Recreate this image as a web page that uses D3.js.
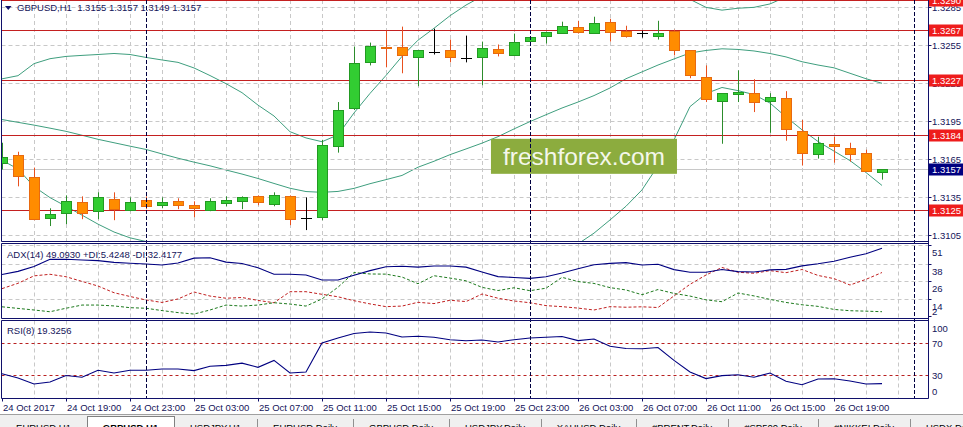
<!DOCTYPE html>
<html><head><meta charset="utf-8">
<script src="https://cdn.jsdelivr.net/npm/d3@7"></script>
<style>
html,body{margin:0;padding:0;background:#fff;overflow:hidden}
svg{display:block}
text{font-family:"Liberation Sans",Arial,sans-serif}
</style></head><body>
<svg id="c" width="963" height="427"></svg>
<script>
// ---------------- DATA ----------------
const symbolHeader = "GBPUSD,H1  1.3155 1.3157 1.3149 1.3157";
const adxHeader = "ADX(14) 49.0930 +DI:5.4248 -DI:32.4177";
const rsiHeader = "RSI(8) 19.3256";

const timeLabels = ["24 Oct 2017","24 Oct 19:00","24 Oct 23:00","25 Oct 03:00","25 Oct 07:00","25 Oct 11:00","25 Oct 15:00","25 Oct 19:00","25 Oct 23:00","26 Oct 03:00","26 Oct 07:00","26 Oct 11:00","26 Oct 15:00","26 Oct 19:00"];
const timeLabelBars = [0,4,8,12,16,20,24,28,32,36,40,44,48,52];
const daySeparatorBars = [9,33,57];

const open  = [1.31624,1.31687,1.31507,1.31186,1.31225,1.31311,1.31241,1.31335,1.31249,1.31327,1.31288,1.31319,1.31288,1.31249,1.31304,1.31319,1.31358,1.31296,1.31358,1.31186,1.31194,1.31757,1.32055,1.32415,1.32540,1.32540,1.32454,1.32493,1.32509,1.32446,1.32454,1.32517,1.32477,1.32587,1.32626,1.32650,1.32697,1.32650,1.32736,1.32665,1.32642,1.32626,1.32665,1.32509,1.32297,1.32110,1.32164,1.32172,1.32110,1.32133,1.31875,1.31695,1.31773,1.31742,1.31703,1.3155];
const high  = [1.31781,1.31710,1.31585,1.31264,1.31366,1.31358,1.31390,1.31390,1.31350,1.31358,1.31350,1.31343,1.31319,1.31343,1.31358,1.31358,1.31366,1.31390,1.31366,1.31350,1.31804,1.32102,1.32540,1.32571,1.32665,1.32697,1.32509,1.32681,1.32595,1.32626,1.32579,1.32556,1.32642,1.32618,1.32657,1.32736,1.32743,1.32775,1.32759,1.32704,1.32665,1.32743,1.32673,1.32509,1.32391,1.32172,1.32352,1.32282,1.32172,1.32188,1.31961,1.31828,1.31828,1.31781,1.31726,1.3157];
const low   = [1.31570,1.31437,1.31170,1.31124,1.31139,1.31178,1.31178,1.31170,1.31241,1.31257,1.31264,1.31257,1.31194,1.31241,1.31280,1.31257,1.31288,1.31280,1.31131,1.31092,1.31170,1.31703,1.32039,1.32391,1.32376,1.32329,1.32227,1.32477,1.32415,1.32415,1.32235,1.32462,1.32470,1.32587,1.32564,1.32650,1.32642,1.32642,1.32579,1.32610,1.32610,1.32595,1.32470,1.32290,1.32102,1.31773,1.32102,1.32023,1.31859,1.31797,1.31601,1.31656,1.31624,1.31632,1.31554,1.3149];
const close = [1.31671,1.31515,1.31178,1.31217,1.31319,1.31225,1.31350,1.31257,1.31311,1.31280,1.31311,1.31288,1.31264,1.31319,1.31327,1.31350,1.31311,1.31366,1.31178,1.31186,1.31765,1.32039,1.32407,1.32548,1.32532,1.32470,1.32509,1.32493,1.32454,1.32446,1.32532,1.32485,1.32579,1.32618,1.32657,1.32704,1.32657,1.32728,1.32657,1.32626,1.32642,1.32650,1.32509,1.32313,1.32125,1.32172,1.32180,1.32102,1.32141,1.31890,1.31703,1.31781,1.31757,1.31695,1.31562,1.3157];

const bbUpper  = [1.32285,1.32310,1.32405,1.32444,1.32462,1.32470,1.32477,1.32485,1.32477,1.32454,1.32434,1.32415,1.32371,1.32311,1.32247,1.32176,1.32078,1.31992,1.31868,1.31819,1.31789,1.31843,1.32016,1.32170,1.32312,1.32462,1.32590,1.32684,1.32783,1.32867,1.32936,1.33003,1.33072,1.33122,1.33160,1.33198,1.33221,1.33238,1.33254,1.33292,1.33271,1.33188,1.33080,1.32912,1.32849,1.32827,1.32842,1.32849,1.32876,1.32931,1.32957,1.32997,1.33029,1.33018,1.33026,1.33056];
const bbMiddle = [1.31964,1.31942,1.31920,1.31896,1.31871,1.31840,1.31808,1.31781,1.31754,1.31728,1.31693,1.31659,1.31628,1.31599,1.31566,1.31534,1.31499,1.31460,1.31422,1.31396,1.31390,1.31397,1.31421,1.31458,1.31490,1.31523,1.31588,1.31635,1.31687,1.31732,1.31778,1.31829,1.31890,1.31948,1.32002,1.32055,1.32102,1.32153,1.32213,1.32286,1.32340,1.32394,1.32442,1.32489,1.32509,1.32522,1.32517,1.32505,1.32485,1.32458,1.32420,1.32394,1.32372,1.32329,1.32286,1.32250];
const bbLower  = [1.31643,1.31574,1.31435,1.31348,1.31280,1.31210,1.31139,1.31077,1.31031,1.31002,1.30952,1.30903,1.30885,1.30887,1.30885,1.30892,1.30920,1.30928,1.30976,1.30973,1.30991,1.30951,1.30826,1.30746,1.30668,1.30584,1.30586,1.30586,1.30591,1.30597,1.30620,1.30655,1.30708,1.30774,1.30844,1.30912,1.30983,1.31068,1.31172,1.31280,1.31409,1.31600,1.31804,1.32066,1.32169,1.32217,1.32192,1.32161,1.32094,1.31985,1.31883,1.31791,1.31715,1.31640,1.31546,1.31444];

const adx     = [31.0,33.2,36.6,41.5,41.5,41.0,40.6,39.4,38.8,38.3,37.6,39.0,42.3,42.6,39.6,38.6,35.7,31.2,31.2,30.7,27.3,27.3,30.5,33.7,36.4,36.7,36.1,36.9,36.9,36.1,32.8,29.6,29.0,28.4,29.5,32.1,35.0,37.8,38.7,39.2,37.6,38.1,34.4,32.6,32.6,34.5,33.0,32.8,34.2,34.6,37.0,38.4,40.2,42.9,45.4,49.093];
const plusDI  = [8.8,7.7,6.6,5.4,7.8,10.0,10.0,9.4,8.2,7.8,6.2,4.8,3.8,6.6,10.0,9.3,10.0,11.6,10.7,9.3,14.2,22.3,32.4,31.4,31.3,29.3,24.7,30.2,28.6,26.7,22.2,20.0,21.9,19.9,21.6,29.1,26.2,24.9,22.0,20.4,17.1,20.7,18.0,16.2,13.6,12.3,18.3,16.3,13.9,11.8,10.2,9.1,7.0,6.1,5.8,5.4248];
const minusDI = [21.3,25.0,30.1,31.2,29.5,26.3,23.1,18.5,15.9,13.5,11.8,14.2,19.0,16.2,14.7,15.2,13.2,11.6,19.2,19.2,17.4,15.7,13.0,10.8,8.9,9.3,11.9,11.0,13.3,12.4,17.6,14.7,12.8,11.6,9.6,8.9,7.9,6.6,8.9,8.5,8.8,8.3,16.3,24.3,30.7,35.9,32.6,31.9,33.7,32.3,34.5,30.4,28.2,23.8,27.7,32.4177];
const rsi     = [31.9,26.6,18.9,21.4,29.7,27.6,36.4,32.9,36.4,36.4,38.1,38.1,36.0,41.5,42.7,45.6,40.2,49.0,32.9,34.2,71.3,77.7,83.3,85.3,84.1,78.9,79.8,78.7,75.5,74.2,75.1,72.6,75.5,77.7,78.6,79.5,74.3,76.3,67.1,64.2,64.0,65.5,49.0,34.2,25.8,29.6,30.8,27.6,32.9,22.5,18.0,25.3,25.7,22.7,18.9,19.3256];

const priceTicks = [1.3285,1.3255,1.3225,1.3195,1.3165,1.3135,1.3105];
const levelPrices = [1.3290,1.3267,1.3227,1.3184,1.3125];
const bidPrice = 1.3157;
const adxTicks = [51,38,26,14,2];
const adxGrid = [51,38,26,14];
const rsiTicks = [100,70,30,0];
const rsiLevels = [70,30];
const watermark = "freshforex.com";
const tabNames = ["EURUSD,H1","GBPUSD,H1","USDJPY,H1","EURUSD,Daily","GBPUSD,Daily","USDJPY,Daily","XAUUSD,Daily","#BRENT,Daily","#SP500,Daily","#NIKKEI,Daily","USDX,Daily"];
const activeTab = 1;

// ---------------- LAYOUT ----------------
const svg = d3.select('#c');
const AX = 928.5, LEFT = 1.5;
const mainP = {top:0, bottom:241.5}, adxP = {top:243.5, bottom:318.5}, rsiP = {top:320.5, bottom:398.5};
const navy = "#10106a", txt = "#14145a";
const x  = d3.scaleLinear().domain([0, 55]).range([2, 882]);
const y  = d3.scaleLinear().domain([1.31002, 1.32907]).range([241.5, 0]);
const yA = d3.scaleLinear().domain([0.74, 52.4]).range([318.5, 243.5]);
const yR = d3.scaleLinear().domain([0, 100]).range([398.8, 320.5]);
const hp = v => Math.floor(v) + 0.5;
const n = close.length;
const idx = d3.range(n);

const defs = svg.append('defs');
function mkClip(id, p){
  defs.append('clipPath').attr('id', id).append('rect')
    .attr('x', LEFT).attr('y', p.top).attr('width', AX - LEFT).attr('height', p.bottom - p.top);
}
mkClip('cm', mainP); mkClip('ca', adxP); mkClip('cr', rsiP);

svg.append('rect').attr('width',963).attr('height',427).attr('fill','#fff');

// vertical grid in all panels
const gridBars = d3.range(2, 57, 2);
[[mainP,'cm'],[adxP,'ca'],[rsiP,'cr']].forEach(([p,c]) => {
  svg.append('g').attr('clip-path',`url(#${c})`).selectAll('line').data(gridBars).join('line')
    .attr('x1', d => x(d)+0.5).attr('x2', d => x(d)+0.5).attr('y1', p.top).attr('y2', p.bottom)
    .attr('stroke','#c8c8c8').attr('stroke-dasharray','4,3');
});

// ---------- main panel ----------
const gm = svg.append('g').attr('clip-path','url(#cm)');
gm.selectAll('line.hg').data(priceTicks).join('line').attr('class','hg')
  .attr('x1', LEFT).attr('x2', AX).attr('y1', d => hp(y(d))).attr('y2', d => hp(y(d)))
  .attr('stroke','#c8c8c8').attr('stroke-dasharray','4,3');

const bbLine = d3.line().x((d,i) => x(i)).y(d => y(d));
[bbUpper, bbMiddle, bbLower].forEach(s => {
  gm.append('path').attr('d', bbLine(s)).attr('fill','none').attr('stroke','#3f9e7e').attr('stroke-width',1);
});

gm.selectAll('line.lv').data(levelPrices).join('line').attr('class','lv')
  .attr('x1', LEFT).attr('x2', AX).attr('y1', d => hp(y(d))).attr('y2', d => hp(y(d)))
  .attr('stroke','#c42020').attr('stroke-width',1);

gm.append('line').attr('x1', LEFT).attr('x2', AX).attr('y1', hp(y(bidPrice))).attr('y2', hp(y(bidPrice)))
  .attr('stroke','#c8c8c8');

// candles
const cg = gm.append('g');
idx.forEach(i => {
  const o = open[i], c = close[i], cx = x(i);
  const doji = o === c, bull = c > o;
  const wick = doji ? '#000' : (bull ? '#2c8c2c' : '#e8501e');
  cg.append('line').attr('x1', cx+0.5).attr('x2', cx+0.5).attr('y1', y(high[i])).attr('y2', y(low[i]))
    .attr('stroke', wick);
  if (doji) {
    cg.append('line').attr('x1', cx-5).attr('x2', cx+6).attr('y1', hp(y(o))).attr('y2', hp(y(o))).attr('stroke','#000');
  } else {
    const yt = Math.round(y(Math.max(o,c))), yb = Math.round(y(Math.min(o,c)));
    cg.append('rect').attr('x', cx-4.5).attr('y', yt+0.5).attr('width', 10).attr('height', Math.max(1, yb-yt))
      .attr('fill', bull ? '#32cd32' : '#ff8c00').attr('stroke', bull ? '#229a22' : '#e86a10');
  }
});

// watermark
const wm = gm.append('g');
wm.append('rect').attr('x', x(30.56)).attr('y', y(1.31812)).attr('width', 186).attr('height', 35).attr('fill','#8cac3e');
wm.append('text').attr('x', x(30.56)+93).attr('y', y(1.31812)+26.5).attr('text-anchor','middle')
  .attr('font-family','"Open Sans", sans-serif').attr('font-size', 24.5).attr('fill','#f4f7ea').text(watermark);

// header
svg.append('path').attr('d','M5,6 L11.5,6 L8.25,10 Z').attr('fill', navy);
svg.append('text').attr('x',17).attr('y',11).attr('font-size',9.5).attr('fill',txt).attr('xml:space','preserve')
  .style('white-space','pre').text(symbolHeader);

// ---------- ADX panel ----------
const ga = svg.append('g').attr('clip-path','url(#ca)');
ga.selectAll('line').data(adxGrid).join('line')
  .attr('x1', LEFT).attr('x2', AX).attr('y1', d => hp(yA(d))).attr('y2', d => hp(yA(d)))
  .attr('stroke','#c8c8c8').attr('stroke-dasharray','4,3');
const aLine = d3.line().x((d,i) => x(i)).y(d => yA(d));
ga.append('path').attr('d', aLine(minusDI)).attr('fill','none').attr('stroke','#c02020').attr('stroke-dasharray','3,2');
ga.append('path').attr('d', aLine(plusDI)).attr('fill','none').attr('stroke','#1e7a1e').attr('stroke-dasharray','3,2');
ga.append('path').attr('d', aLine(adx)).attr('fill','none').attr('stroke','#000080').attr('stroke-width',1.1);
svg.append('text').attr('x',7).attr('y',257.5).attr('font-size',9.5).attr('fill',txt).text(adxHeader);

// ---------- RSI panel ----------
const gr = svg.append('g').attr('clip-path','url(#cr)');
gr.selectAll('line').data(rsiLevels).join('line')
  .attr('x1', LEFT).attr('x2', AX).attr('y1', d => hp(yR(d))).attr('y2', d => hp(yR(d)))
  .attr('stroke','#b82020').attr('stroke-dasharray','3,3');
const rLine = d3.line().x((d,i) => x(i)).y(d => yR(d));
gr.append('path').attr('d', rLine(rsi)).attr('fill','none').attr('stroke','#000080').attr('stroke-width',1.1);
svg.append('text').attr('x',7).attr('y',333.5).attr('font-size',9.5).attr('fill',txt).text(rsiHeader);

// day separators
svg.selectAll('line.sep').data(daySeparatorBars).join('line').attr('class','sep')
  .attr('x1', d => x(d)+0.5).attr('x2', d => x(d)+0.5).attr('y1', 0).attr('y2', rsiP.bottom)
  .attr('stroke','#000040').attr('stroke-dasharray','4,2');

// panel borders
[mainP, adxP, rsiP].forEach(p => {
  if (p !== mainP) svg.append('line').attr('x1',LEFT).attr('x2',AX).attr('y1',p.top).attr('y2',p.top).attr('stroke',navy);
  svg.append('line').attr('x1',LEFT).attr('x2',AX).attr('y1',p.bottom).attr('y2',p.bottom).attr('stroke',navy);
  svg.append('line').attr('x1',LEFT).attr('x2',LEFT).attr('y1',p.top).attr('y2',p.bottom).attr('stroke',navy);
});
svg.append('line').attr('x1',AX).attr('x2',AX).attr('y1',0).attr('y2',rsiP.bottom).attr('stroke',navy);

// ---------- right price axis ----------
const axg = svg.append('g').attr('font-size',9.5).attr('fill',txt);
priceTicks.forEach(v => {
  const yy = hp(y(v));
  axg.append('line').attr('x1',AX).attr('x2',AX+3).attr('y1',yy).attr('y2',yy).attr('stroke',navy);
  axg.append('text').attr('x',932).attr('y',yy+3.5).text(v.toFixed(4));
});
levelPrices.forEach(v => {
  const yy = hp(y(v));
  axg.append('rect').attr('x',929).attr('y',yy-6).attr('width',34).attr('height',12).attr('fill','#ee1c1c');
  axg.append('text').attr('x',932).attr('y',yy+3.5).attr('fill','#fff').text(v.toFixed(4));
});
{
  const yy = hp(y(bidPrice));
  axg.append('rect').attr('x',929).attr('y',yy-6).attr('width',34).attr('height',12).attr('fill','#000080');
  axg.append('text').attr('x',932).attr('y',yy+3.5).attr('fill','#fff').text(bidPrice.toFixed(4));
}
adxTicks.forEach(v => {
  const cy = Math.max(251.5, Math.min(311, yA(v) + 7));
  axg.append('text').attr('x',932).attr('y',cy+3.5).text(v);
  if (yA(v) > adxP.top && yA(v) < adxP.bottom)
    axg.append('line').attr('x1',AX).attr('x2',AX+3).attr('y1',hp(yA(v))).attr('y2',hp(yA(v))).attr('stroke',navy);
});
rsiTicks.forEach(v => {
  const cy = Math.max(328, Math.min(391.3, yR(v)));
  axg.append('text').attr('x',932).attr('y',cy+3.5).text(v);
});

// ---------- time axis ----------
timeLabelBars.forEach((b, i) => {
  const tx = x(b);
  axg.append('line').attr('x1',tx+0.5).attr('x2',tx+0.5).attr('y1',rsiP.bottom).attr('y2',rsiP.bottom+3).attr('stroke',navy);
  axg.append('text').attr('x',tx+1).attr('y',411).text(timeLabels[i]);
});

// ---------- tabs ----------
const tg = svg.append('g');
tg.append('rect').attr('x',0).attr('y',414).attr('width',963).attr('height',13).attr('fill','#f0f0f0');
tg.append('line').attr('x1',0).attr('x2',963).attr('y1',414.5).attr('y2',414.5).attr('stroke','#a0a0a0');
let tx0 = 0;
const meas = svg.append('text').attr('font-size',9.5).attr('opacity',0);
tabNames.forEach((name, i) => {
  meas.text(name);
  const w = Math.round(meas.node().getComputedTextLength() + 32);
  if (i === activeTab) {
    tg.append('rect').attr('x',tx0+0.5).attr('y',416.5).attr('width',w).attr('height',12).attr('fill','#fff').attr('stroke','#808080');
  } else {
    tg.append('line').attr('x1',tx0+w+0.5).attr('x2',tx0+w+0.5).attr('y1',419).attr('y2',427).attr('stroke','#909090');
  }
  tg.append('text').attr('x',tx0 + w/2).attr('y',430.5).attr('text-anchor','middle').attr('font-size',9.5)
    .attr('font-weight', i === activeTab ? 'bold' : 'normal').attr('fill','#000').text(name);
  tx0 += w;
});
meas.remove();
</script>
</body></html>
